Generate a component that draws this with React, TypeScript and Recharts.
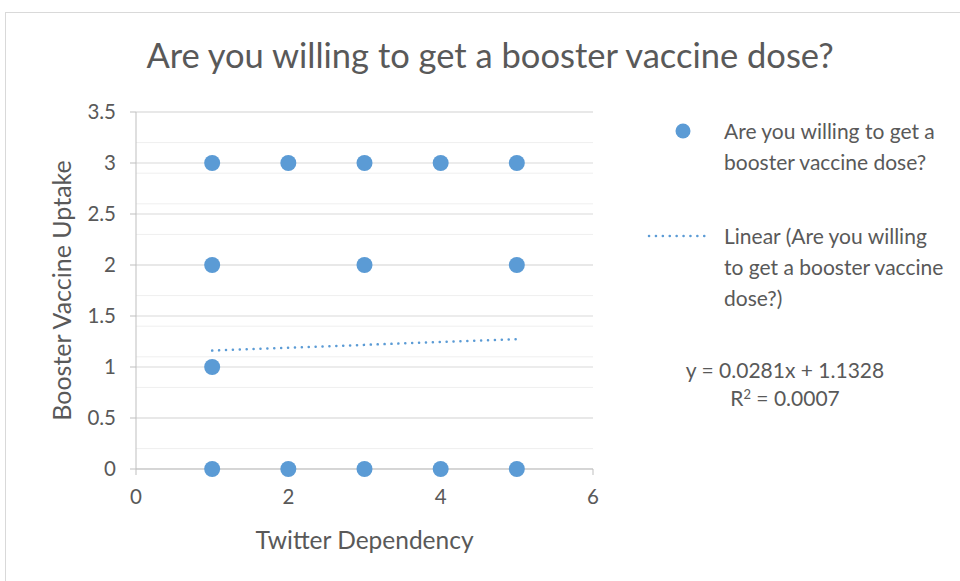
import React from "react";
import {
  ScatterChart,
  Scatter,
  XAxis,
  YAxis,
  CartesianGrid,
  Label,
} from "recharts";

// responses: x = Twitter Dependency, y = Booster Vaccine Uptake
const twitterDependency = [1, 2, 3, 4, 5, 1, 3, 5, 1, 1, 2, 3, 4, 5];
const boosterUptake = [3, 3, 3, 3, 3, 2, 2, 2, 1, 0, 0, 0, 0, 0];

const xTicks = [0, 2, 4, 6];
const yTicks = [0, 0.5, 1, 1.5, 2, 2.5, 3, 3.5];
const yMinor = Array.from({ length: 36 }, (_, i) => Math.round(i * 10) / 100);

// linear trendline shown on the chart
const slope = 0.0281;
const intercept = 1.1328;
const rSquared = "0.0007";
const trendRange = [1, 5];

const seriesName = "Are you willing to get a booster vaccine dose?";
const BLUE = "#5B9BD5";
const TEXT = "#595959";
const FONT = "Lato, 'Open Sans', sans-serif";

const points = twitterDependency.map((x, i) => ({ x, y: boosterUptake[i] }));
const trend = trendRange.map((x) => ({ x, y: slope * x + intercept }));

function LegendBox() {
  const txt: React.CSSProperties = {
    fontFamily: FONT,
    fontSize: 21,
    color: TEXT,
    lineHeight: "31px",
    whiteSpace: "nowrap",
  };
  return (
    <div style={{ position: "absolute", left: 640, top: 115, width: 320, height: 300 }}>
      <svg width={320} height={300} style={{ position: "absolute", left: 0, top: 0 }}>
        <circle cx={43} cy={16} r={7.5} fill={BLUE} />
        <line
          x1={9}
          x2={70}
          y1={121}
          y2={121}
          stroke={BLUE}
          strokeWidth={2.5}
          strokeDasharray="0.1 6.8"
          strokeLinecap="round"
        />
      </svg>
      <div style={{ ...txt, position: "absolute", left: 84, top: 0 }}>
        Are you willing to get a<br />booster vaccine dose?
      </div>
      <div style={{ ...txt, position: "absolute", left: 84, top: 105 }}>
        Linear (Are you willing<br />to get a booster vaccine<br />dose?)
      </div>
      <div
        style={{
          ...txt,
          position: "absolute",
          left: 20,
          top: 241,
          width: 250,
          textAlign: "center",
          lineHeight: "28px",
        }}
      >
        y = {slope}x + {intercept}
        <br />
        R<sup style={{ fontSize: 13, verticalAlign: "top", lineHeight: "20px" }}>2</sup> = {rSquared}
      </div>
    </div>
  );
}

export default function App() {
  return (
    <div
      style={{
        position: "absolute",
        left: 0,
        top: 0,
        width: 960,
        height: 581,
        background: "#fff",
        overflow: "hidden",
      }}
    >
      <div
        style={{
          position: "absolute",
          left: 5,
          top: 12,
          width: 960,
          height: 600,
          border: "1px solid #d9d9d9",
        }}
      />
      <div
        style={{
          position: "absolute",
          left: 0,
          top: 34,
          width: 980,
          textAlign: "center",
          fontFamily: FONT,
          fontSize: 34.5,
          color: TEXT,
        }}
      >
        {seriesName}
      </div>
      <div style={{ position: "absolute", left: 0, top: 0 }}>
        <ScatterChart
          width={960}
          height={581}
          margin={{ top: 112, left: 76, right: 367, bottom: 27 }}
        >
          <CartesianGrid
            vertical={false}
            horizontalValues={yMinor}
            stroke="#efefef"
            strokeWidth={1}
          />
          <CartesianGrid
            vertical={false}
            horizontalValues={yTicks}
            stroke="#d9d9d9"
            strokeWidth={1}
          />
          <XAxis
            type="number"
            dataKey="x"
            domain={[0, 6]}
            ticks={xTicks}
            height={85}
            stroke="#bfbfbf"
            tickSize={6}
            tick={{ fill: TEXT, fontSize: 20.5, fontFamily: FONT }}
            tickMargin={14}
          >
            <Label
              value="Twitter Dependency"
              position="insideBottom"
              offset={5}
              style={{ fill: TEXT, fontSize: 24.5, fontFamily: FONT }}
            />
          </XAxis>
          <YAxis
            type="number"
            dataKey="y"
            domain={[0, 3.5]}
            ticks={yTicks}
            width={60}
            stroke="#bfbfbf"
            tickSize={6}
            tick={{ fill: TEXT, fontSize: 20.5, fontFamily: FONT }}
            tickMargin={14}
          >
            <Label
              value="Booster Vaccine Uptake"
              angle={-90}
              position="insideLeft"
              offset={-14}
              style={{ fill: TEXT, fontSize: 25, fontFamily: FONT, textAnchor: "middle" }}
            />
          </YAxis>
          <Scatter
            name={seriesName}
            data={points}
            fill={BLUE}
            isAnimationActive={false}
            shape={(p: any) => <circle cx={p.cx} cy={p.cy} r={8} fill={BLUE} />}
          />
          <Scatter
            name="Linear"
            data={trend}
            fill="none"
            isAnimationActive={false}
            line={{
              stroke: BLUE,
              strokeWidth: 2.5,
              strokeDasharray: "0.1 6.8",
              strokeLinecap: "round",
            }}
            shape={() => <g />}
          />
        </ScatterChart>
      </div>
      <LegendBox />
    </div>
  );
}
